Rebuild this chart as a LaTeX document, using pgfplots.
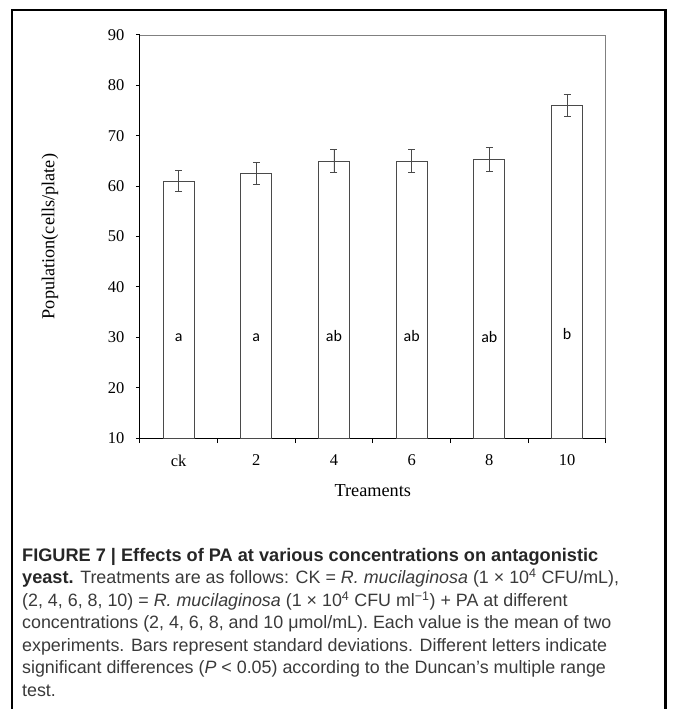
\documentclass[border=0pt]{standalone}
\usepackage{fontspec}
\setmainfont{Liberation Serif}
\newfontfamily\capfont{Liberation Sans}
\newfontfamily\letterfont{Carlito}
\usepackage{pgfplots}
\pgfplotsset{compat=1.18}
\definecolor{capgray}{HTML}{3A3A3A}
\definecolor{bargray}{HTML}{4A4A4A}
\pgfplotstableread{
x  y     e
0  61.0  2.1
1  62.5  2.2
2  65.0  2.2
3  65.0  2.2
4  65.3  2.3
5  76.0  2.2
}\popdata
\begin{document}
\begin{tikzpicture}[x=1pt,y=1pt]
\begin{axis}[
  at={(140pt,271pt)}, anchor=south west,
  scale only axis, width=467pt, height=404pt,
  xmin=-0.5, xmax=5.5, ymin=10, ymax=90,
  axis x line*=bottom, axis y line*=left,
  axis line style={-, black, line width=1.3pt},
  ytick={10,20,...,90},
  xtick={0,1,2,3,4,5}, xticklabels={ck,2,4,6,8,10},
  major x tick style={draw=none},
  minor xtick={-0.5,0.5,1.5,2.5,3.5,4.5,5.5},
  tick align=outside,
  major tick length=4pt, minor tick length=5pt,
  tick style={black, line width=1pt},
  /pgf/number format/assume math mode=true,
  tick label style={font=\fontsize{16.5}{19}\selectfont},
  label style={font=\fontsize{18.3}{21}\selectfont},
  xticklabel style={yshift=-9pt},
  yticklabel style={xshift=-8pt},
  xlabel={Treaments},
  xlabel style={at={(axis description cs:0.5,0)}, anchor=north, yshift=-43pt},
  ylabel={Population(cells/plate)},
  ylabel style={at={(axis description cs:-0.167,0.5)}, anchor=south},
  ybar, bar width=0.4,
  clip=true,
]
\addplot[fill=white, draw=bargray, line width=0.9pt,
  error bars/.cd, y dir=both, y explicit,
  error bar style={bargray, line width=0.8pt},
  error mark options={rotate=90, mark size=3.5pt, bargray, line width=0.8pt}]
  table[x=x, y=y, y error=e] {\popdata};
\draw[gray, line width=0.8pt] (rel axis cs:0,1) -- (rel axis cs:1,1) -- (rel axis cs:1,0);
\begin{scope}[font=\letterfont\fontsize{16}{18}\selectfont]
\node at (axis cs:0,30) {a};
\node at (axis cs:1,30) {a};
\node at (axis cs:2,30.3) {ab};
\node at (axis cs:3,30.3) {ab};
\node at (axis cs:4,30) {ab};
\node at (axis cs:5,30.7) {b};
\end{scope}
\end{axis}
\draw[line width=2.6pt] (12,0) -- (12,700) -- (667,700) -- (667,0);
\begin{scope}[font=\capfont\fontsize{17.9}{20}\selectfont, color=capgray]
\node[anchor=base west, inner sep=0pt, text=black!85, font=\capfont\bfseries\fontsize{18.2}{20}\selectfont] at (22,147) {FIGURE 7 | Effects of PA at various concentrations on antagonistic};
\node[anchor=base west, inner sep=0pt] at (22,125) {{\bfseries\color{black!85}\fontsize{18.2}{20}\selectfont yeast.} Treatments are as follows: CK = \textit{R. mucilaginosa} (1 × 10\textsuperscript{4} CFU/mL),};
\node[anchor=base west, inner sep=0pt] at (22,102) {(2, 4, 6, 8, 10) = \textit{R. mucilaginosa} (1 × 10\textsuperscript{4} CFU ml\textsuperscript{−1}) + PA at different};
\node[anchor=base west, inner sep=0pt] at (22,80) {concentrations (2, 4, 6, 8, and 10 μmol/mL). Each value is the mean of two};
\node[anchor=base west, inner sep=0pt] at (22,57) {experiments. Bars represent standard deviations. Different letters indicate};
\node[anchor=base west, inner sep=0pt] at (22,35) {significant differences (\textit{P} < 0.05) according to the Duncan’s multiple range};
\node[anchor=base west, inner sep=0pt] at (22,12) {test.};
\end{scope}
\path (0,0) rectangle (675,710);
\end{tikzpicture}
\end{document}
